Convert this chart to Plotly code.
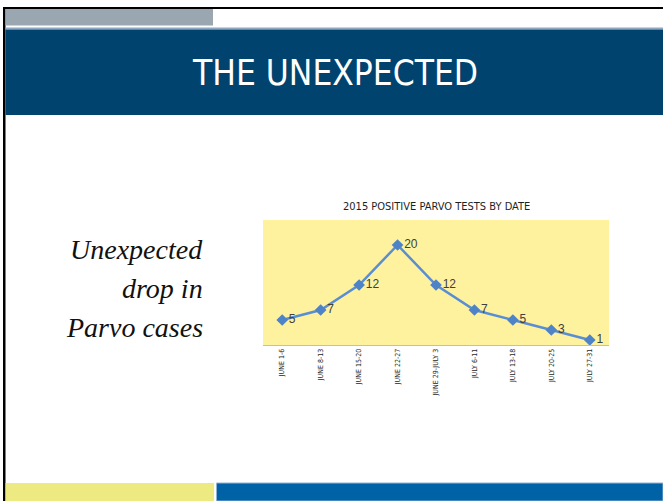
import plotly.graph_objects as go

W, H = 663, 501

categories = ["JUNE 1-6", "JUNE 8-13", "JUNE 15-20", "JUNE 22-27", "JUNE 29-JULY 3",
              "JULY 6-11", "JULY 13-18", "JULY 20-25", "JULY 27-31"]
positive_tests = [5, 7, 12, 20, 12, 7, 5, 3, 1]

slide_title = "THE UNEXPECTED"
chart_title = "2015 POSITIVE PARVO TESTS BY DATE"
side_lines = ["Unexpected", "drop in", "Parvo cases"]

COND = "DejaVu Sans Condensed, Liberation Sans Narrow, Arial Narrow, sans-serif"


def X(px):
    return px / W


def Y(py):
    return 1 - py / H


fig = go.Figure()
fig.add_trace(go.Scatter(
    x=categories, y=positive_tests,
    mode="lines+markers+text",
    text=[str(v) for v in positive_tests],
    textposition="middle right",
    textfont=dict(family="Liberation Sans, Arial", size=12, color="#404040"),
    line=dict(color="#5A8ED3", width=2.5),
    marker=dict(symbol="diamond", size=9, color="#4F83C8"),
    cliponaxis=False,
    hoverinfo="skip",
))

shapes = []


def rect(x0, y0, x1, y1, fill, line_color=None, lw=0):
    shapes.append(dict(type="rect", xref="paper", yref="paper",
                       x0=X(x0), x1=X(x1), y0=Y(y1), y1=Y(y0),
                       fillcolor=fill,
                       line=dict(color=line_color or fill, width=lw),
                       layer="below"))


rect(3, 7, 663, 9, "#000000")
rect(3, 7, 5.5, 501, "#000000")
rect(5.5, 9, 213, 25.5, "#9AA6B0")
rect(5.5, 27.5, 663, 29.5, "#8FA7C0")
rect(5.5, 29.5, 663, 115, "#00436F")
rect(5.5, 483, 214, 501, "#ECEA80")
rect(216.5, 483, 663, 501, "#0062A6", "#8FB3D6", 1)

annotations = [
    dict(text=slide_title, x=X(335), y=Y(73), xref="paper", yref="paper",
         xanchor="center", yanchor="middle", showarrow=False,
         font=dict(family=COND, size=35, color="#FFFFFF")),
    dict(text=chart_title, x=X(436), y=Y(206), xref="paper", yref="paper",
         xanchor="center", yanchor="middle", showarrow=False,
         font=dict(family=COND, size=11, color="#1F1F1F")),
]
for i, (line, yc) in enumerate(zip(side_lines, [249, 288, 327])):
    annotations.append(dict(
        text="<i>" + line + "</i>", x=X(205), y=Y(yc), xref="paper", yref="paper",
        xanchor="right", yanchor="middle", showarrow=False,
        font=dict(family="Liberation Serif, Times New Roman, serif", size=28, color="#111111")))

fig.update_layout(
    width=W, height=H, autosize=False,
    margin=dict(l=0, r=0, t=0, b=0),
    paper_bgcolor="#FFFFFF",
    plot_bgcolor="#FFF29E",
    showlegend=False,
    shapes=shapes,
    annotations=annotations,
    xaxis=dict(domain=[X(263), X(609)], type="category", range=[-0.5, 8.5],
               showgrid=False, zeroline=False, showline=True, linecolor="#BFBFBF", linewidth=1,
               ticks="", tickangle=-90, automargin=False,
               tickfont=dict(family=COND, size=7, color="#262626")),
    yaxis=dict(domain=[Y(345), Y(220)], range=[0, 25], visible=False, showgrid=False,
               zeroline=False, automargin=False),
)

fig.write_html(
    "out.html",
    config={"displayModeBar": False},
    post_script="document.body.style.margin='0';document.body.style.padding='0';"
                "document.body.style.overflow='hidden';",
)
